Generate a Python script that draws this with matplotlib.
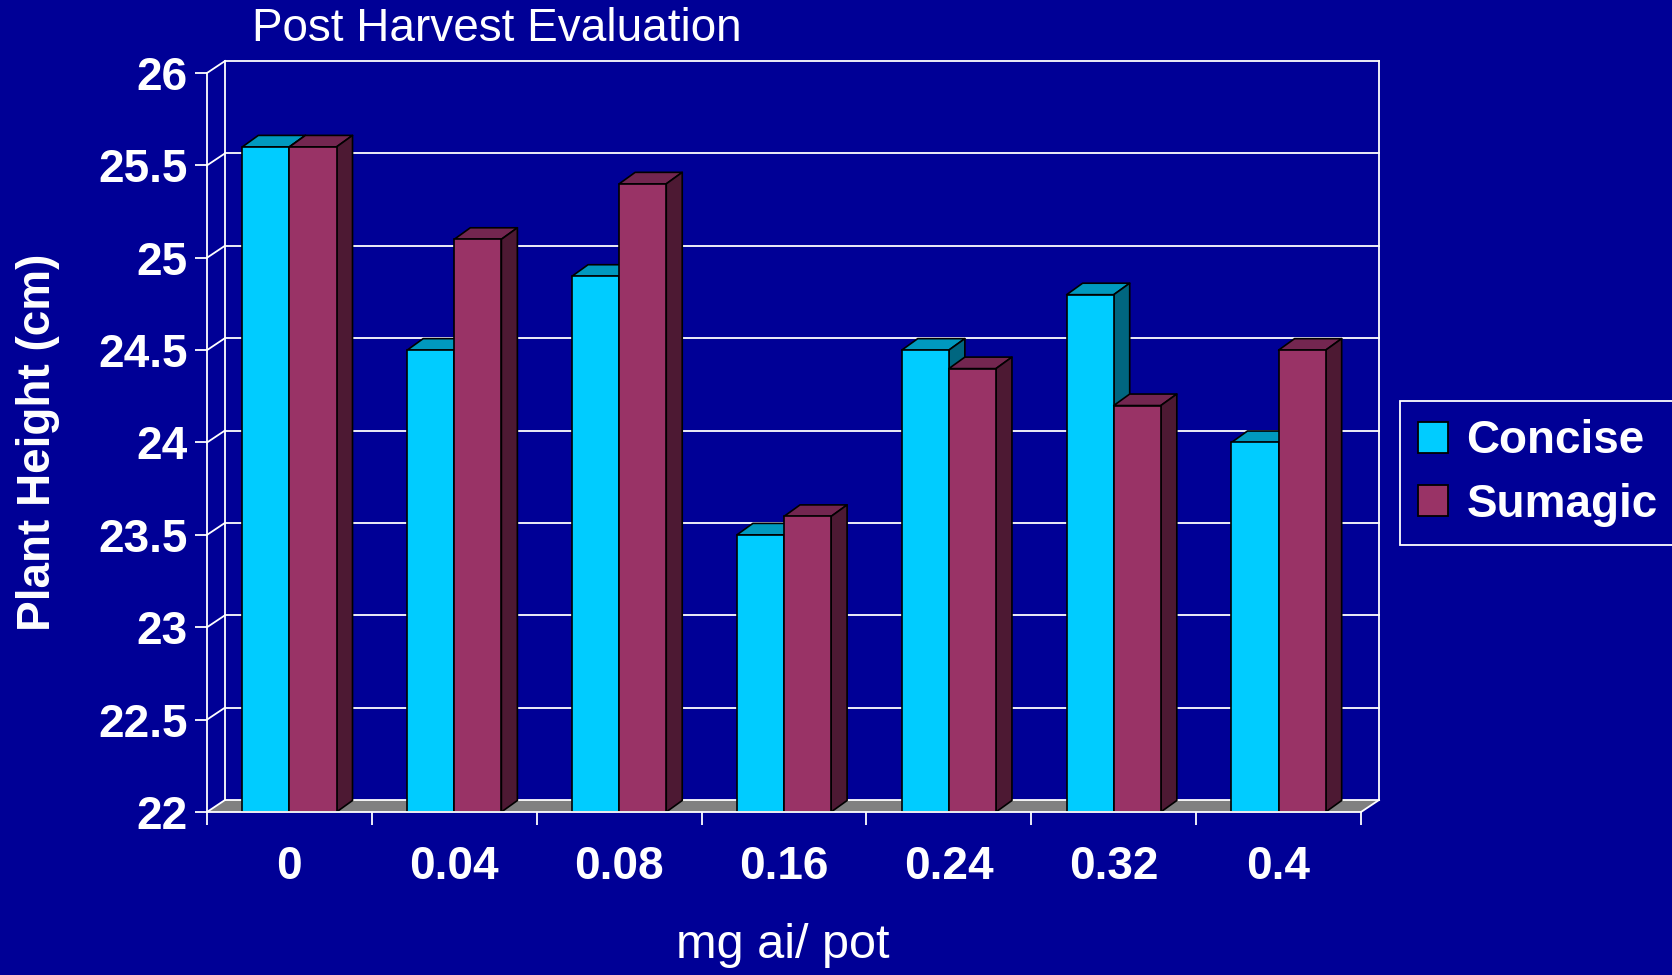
import matplotlib
matplotlib.use("Agg")
import matplotlib.pyplot as plt
from matplotlib.patches import Patch, Polygon

# chart values
doses = ["0", "0.04", "0.08", "0.16", "0.24", "0.32", "0.4"]
concise = [25.6, 24.5, 24.9, 23.5, 24.5, 24.8, 24.0]
sumagic = [25.6, 25.1, 25.4, 23.6, 24.4, 24.2, 24.5]
y_ticks = [22, 22.5, 23, 23.5, 24, 24.5, 25, 25.5, 26]
y_labels = ["22", "22.5", "23", "23.5", "24", "24.5", "25", "25.5", "26"]

# colours
BG = "#000096"
C_FRONT, C_TOP, C_SIDE = "#00CCFF", "#0099BF", "#006680"
S_FRONT, S_TOP, S_SIDE = "#993366", "#732650", "#4D1933"

plt.rcParams["font.family"] = ["Liberation Sans", "DejaVu Sans"]

W, H = 1672, 975
fig = plt.figure(figsize=(W / 100, H / 100), dpi=100, facecolor=BG)
ax = fig.add_axes([207 / W, (H - 812) / H, 1172 / W, 751 / H], facecolor=BG)

n = len(doses)
# fake 3d depth, in data units
dx = 18 / 165
dy = 12 / 184.8
bar_dx = 16 / 165
bar_dy = 11.5 / 184.8
ax.set_xlim(0, n + dx)
ax.set_ylim(22, 26 + dy)

for s in ax.spines.values():
    s.set_visible(False)

# floor
ax.add_patch(Polygon([(0, 22), (dx, 22 + dy), (n + dx, 22 + dy), (n, 22)], fc="#808080", ec="none", zorder=1))

# back wall, grid and the little diagonals on the side wall
WHITE = dict(color="white", lw=1.3, zorder=2, solid_capstyle="projecting")
for t in y_ticks:
    ax.plot([0, dx], [t, t + dy], clip_on=False, **WHITE)
    ax.plot([dx, n + dx], [t + dy, t + dy], clip_on=False, **WHITE)
ax.plot([0, 0], [22, 26], clip_on=False, **WHITE)
ax.plot([dx, dx], [22 + dy, 26 + dy], clip_on=False, **WHITE)
ax.plot([n + dx, n + dx], [22 + dy, 26 + dy], clip_on=False, **WHITE)
ax.plot([n, n + dx], [22, 22 + dy], clip_on=False, **WHITE)


def draw_bar(x, w, v, front, top, side, z):
    ax.add_patch(Polygon([(x, v), (x + bar_dx, v + bar_dy), (x + w + bar_dx, v + bar_dy), (x + w, v)],
                         fc=top, ec="black", lw=1.2, zorder=z, joinstyle="round"))
    ax.add_patch(Polygon([(x + w, 22), (x + w + bar_dx, 22 + bar_dy), (x + w + bar_dx, v + bar_dy), (x + w, v)],
                         fc=side, ec="black", lw=1.2, zorder=z, joinstyle="round"))
    ax.bar(x, v - 22, w, bottom=22, align="edge", color=front, edgecolor="black", lw=1.2, zorder=z + 0.1)


# gap width 150%
w = 1 / 3.5
for i in range(n):
    x0 = i + 0.75 * w
    draw_bar(x0, w, concise[i], C_FRONT, C_TOP, C_SIDE, 3 + i)
    draw_bar(x0 + w, w, sumagic[i], S_FRONT, S_TOP, S_SIDE, 3.3 + i)

# front base line goes over the bars
ax.plot([0, n], [22, 22], color="white", lw=1.3, zorder=20, clip_on=False)

# ticks
ax.set_yticks(y_ticks)
ax.set_yticklabels(y_labels, fontsize=33, fontweight="bold", color="white")
ax.tick_params(axis="y", direction="out", length=9, width=1.3, color="white", pad=5)
ax.set_xticks([i + 0.5 for i in range(n)])
ax.set_xticklabels(doses, fontsize=33, fontweight="bold", color="white")
ax.set_xticks(range(n + 1), minor=True)
ax.tick_params(axis="x", which="major", length=0, pad=24)
ax.tick_params(axis="x", which="minor", direction="out", length=9, width=1.3, color="white")

# titles, placed by hand like the original slide
fig.text(252 / W, 1 - 29 / H, "Post Harvest Evaluation", fontsize=33, color="white", ha="left", va="center")
fig.text(38 / W, 1 - 442 / H, "Plant Height (cm)", fontsize=33, fontweight="bold", color="white",
         rotation=90, ha="center", va="center")
fig.text(783 / W, 1 - 945 / H, "mg ai/ pot", fontsize=35, color="white", ha="center", va="center")

# legend
handles = [Patch(fc=C_FRONT, ec="black", lw=1.3), Patch(fc=S_FRONT, ec="black", lw=1.3)]
leg = fig.legend(handles, ["Concise", "Sumagic"], loc="upper left", bbox_to_anchor=(1400 / W, 1 - 401 / H),
                 bbox_transform=fig.transFigure, fontsize=33, labelcolor="white", frameon=True,
                 facecolor=BG, edgecolor="white", fancybox=False, framealpha=1, borderaxespad=0,
                 handlelength=0.65, handleheight=0.65, handletextpad=0.4, labelspacing=0.42, borderpad=0.4,
                 prop=dict(weight="bold", size=33))
leg.get_frame().set_linewidth(1.3)

fig.savefig("out.png", dpi=100, facecolor=BG)
